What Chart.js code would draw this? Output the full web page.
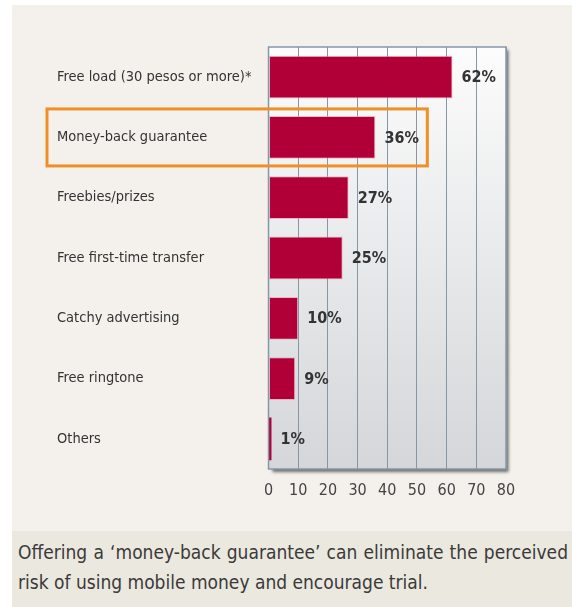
<!DOCTYPE html>
<html>
<head>
<meta charset="utf-8">
<script src="https://cdn.jsdelivr.net/npm/chart.js@4"></script>
<style>
  html, body { margin: 0; padding: 0; background: #fff; }
  body { width: 572px; height: 607px; position: relative; overflow: hidden; }
  #panel { position: absolute; left: 12px; top: 5px; width: 560px; height: 526px; background: #f4f1ec; }
  #chart { position: absolute; left: 0; top: 0; }
  #caption {
    position: absolute; left: 12px; top: 531px; width: 560px; height: 76px;
    background: #ebe8df; box-sizing: border-box; padding: 6px 4px 0 6px;
    font-family: "DejaVu Sans Condensed", sans-serif; font-size: 19px; line-height: 30px;
    color: #3a3a3a; text-align: justify;
  }
</style>
</head>
<body>
<div id="panel"><canvas id="chart" width="560" height="526"></canvas></div>
<div id="caption">Offering a ‘money-back guarantee’ can eliminate the perceived risk of using mobile money and encourage trial.</div>
<script>
// Alasan mencoba layanan mobile money (%)
var kategori = [
  'Free load (30 pesos or more)*',
  'Money-back guarantee',
  'Freebies/prizes',
  'Free first-time transfer',
  'Catchy advertising',
  'Free ringtone',
  'Others'
];
var persen = [62, 36, 27, 25, 10, 9, 1];
var skalaTicks = [0, 10, 20, 30, 40, 50, 60, 70, 80];
var sorotan = 1; // baris yang diberi kotak oranye

var FONT = '"DejaVu Sans Condensed", sans-serif';

// Latar plot: gradasi putih ke abu-abu + bayangan kanan bawah
var bingkaiPlot = {
  id: 'bingkaiPlot',
  beforeDraw: function(chart) {
    var a = chart.chartArea, ctx = chart.ctx;
    ctx.save();
    ctx.shadowColor = 'rgba(60,60,60,0.75)';
    ctx.shadowBlur = 3;
    ctx.shadowOffsetX = 3;
    ctx.shadowOffsetY = 3;
    var g = ctx.createLinearGradient(0, a.top, 0, a.bottom);
    g.addColorStop(0, '#fcfcfc');
    g.addColorStop(1, '#d4d6d9');
    ctx.fillStyle = g;
    ctx.fillRect(a.left, a.top, a.right - a.left, a.bottom - a.top);
    ctx.restore();
  },
  afterDatasetsDraw: function(chart) {
    var a = chart.chartArea, ctx = chart.ctx;
    ctx.save();
    ctx.strokeStyle = '#8597a6';
    ctx.lineWidth = 1.5;
    ctx.strokeRect(a.left, a.top, a.right - a.left, a.bottom - a.top);

    // label persen di ujung batang
    ctx.font = 'bold 16px ' + FONT;
    ctx.fillStyle = '#333';
    ctx.textAlign = 'left';
    ctx.textBaseline = 'middle';
    chart.getDatasetMeta(0).data.forEach(function(bar, i) {
      ctx.fillText(persen[i] + '%', bar.x + 9, bar.y + 1);
    });
    ctx.restore();
  },
  afterDraw: function(chart) {
    var ctx = chart.ctx, x = chart.scales.x, y = chart.scales.y;
    var cy = y.getPixelForValue(sorotan);
    ctx.save();
    ctx.strokeStyle = '#ef8f25';
    ctx.lineWidth = 3;
    ctx.strokeRect(y.left - 10, cy - 28.5, x.getPixelForValue(53.5) - (y.left - 10), 57);
    ctx.restore();
  }
};

new Chart(document.getElementById('chart'), {
  type: 'bar',
  data: {
    labels: kategori,
    datasets: [{
      data: persen,
      backgroundColor: '#b10037',
      borderColor: 'rgba(235,160,180,0.7)',
      // batang yang sangat tipis tanpa garis tepi
      borderWidth: function(c) { return c.raw < 3 ? 0 : 1; },
      borderSkipped: false,
      categoryPercentage: 1,
      barPercentage: 0.71
    }]
  },
  options: {
    responsive: false,
    animation: false,
    indexAxis: 'y',
    layout: { padding: { left: 45, top: 42, right: 66, bottom: 0 } },
    plugins: { legend: { display: false }, tooltip: { enabled: false } },
    scales: {
      x: {
        min: 0,
        max: 80,
        afterBuildTicks: function(s) { s.ticks = skalaTicks.map(function(v) { return { value: v }; }); },
        afterFit: function(s) { s.height = 62; },
        grid: { color: '#8597a6', lineWidth: 1, drawTicks: false },
        border: { display: false },
        ticks: { padding: 12, color: '#444', font: { family: FONT, size: 16 } }
      },
      y: {
        afterFit: function(s) { s.width = 211.5; },
        grid: { display: false },
        border: { display: false },
        ticks: { crossAlign: 'far', color: '#333', font: { family: FONT, size: 14.5 } }
      }
    }
  },
  plugins: [bingkaiPlot]
});
</script>
</body>
</html>
